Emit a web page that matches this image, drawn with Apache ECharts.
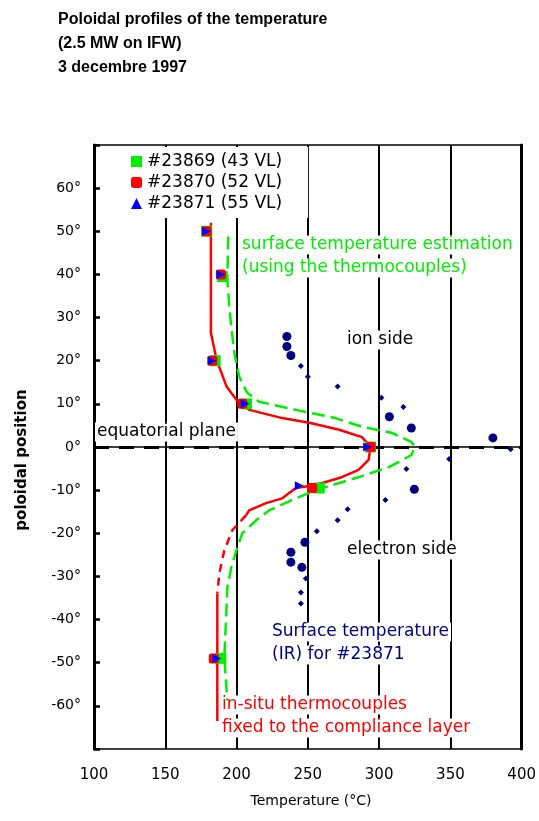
<!DOCTYPE html>
<html>
<head>
<meta charset="utf-8">
<script src="https://cdn.jsdelivr.net/npm/echarts@6/dist/echarts.min.js"></script>
<style>
  html, body { margin: 0; padding: 0; background: #fff; }
  #chart { width: 539px; height: 821px; }
</style>
</head>
<body>
<div id="chart"></div>
<script>
// thermocouple readings [temperature °C, poloidal position °]
const tc23869 = [[179, 50], [190, 39.5], [185, 20], [207, 10], [294, 0], [258, -9.5], [189, -49]];
const tc23870 = [[179, 50], [189, 40], [183, 20], [204, 10], [294, 0], [253, -9.5], [184, -49]];
const tc23871 = [[179, 50], [189, 40], [183, 20], [206, 10], [292, 0], [244, -9], [186, -49]];

// in-situ thermocouples profile (red)
const insituTop = [[182, 52], [182, 26.5], [186, 20.2], [193, 14], [200, 10.9], [209, 8.6], [232, 6.7],
  [251, 5.6], [272, 4], [288, 2.3], [294, 0], [292.6, -3], [285.6, -5.3], [273.7, -7], [255.6, -8.8],
  [241.6, -9.5], [232, -11.9], [220.7, -13], [208.8, -14.7], [206.7, -15.8]];
const insituMid = [[206.7, -15.8], [197, -19.3], [191.4, -24], [187.9, -29.3], [186.5, -34]];
const insituBottom = [[186.5, -34], [186.5, -63.5]];

// surface temperature estimation (green dashed)
const surfaceEstimate = [[194.2, 48.8], [193.5, 38.8], [194.9, 32.6], [196.3, 27.9], [198.4, 21.9],
  [201.9, 16.3], [207.4, 12.6], [215.8, 10.5], [241.6, 8.6], [269.5, 6.7], [287.7, 4.7], [308.6, 3.3],
  [322.6, 1.2], [325.3, 0], [322.6, -1.9], [306.5, -4.7], [283.5, -7.2], [255.6, -10], [238.8, -12.3],
  [222.8, -14.7], [213.7, -17], [204, -20], [199.8, -24], [196.3, -27.9], [193.5, -32.6], [192.8, -38.6],
  [191.4, -48.8], [193.5, -58.8]];

// IR surface temperature for #23871
const irBig = [[235.3, 25.6], [235.3, 23.3], [238.1, 21.2], [307.2, 7], [322.6, 4.4], [379.8, 2.1],
  [324.7, -9.8], [247.9, -22.1], [238.1, -24.4], [238.1, -26.7], [245.8, -27.9]];
const irSmall = [[245.1, 18.8], [250, 16.3], [270.9, 14], [301.6, 11.4], [317, 9.3], [392.3, -0.5],
  [349.1, -2.8], [319.1, -5.1], [304.4, -12.3], [277.9, -14.4], [270.9, -17], [256.3, -19.5],
  [248.6, -30.5], [245.1, -33.7], [245.1, -36.3]];

const legendNames = ['#23869 (43 VL)', '#23870 (52 VL)', '#23871 (55 VL)'];
const xTicks = [100, 400, 50];
const yTicks = [-70, 70, 10];

const titleFont = '"Liberation Sans", Arial, sans-serif';
const font = '"DejaVu Sans", sans-serif';

const chart = echarts.init(document.getElementById('chart'));

function note(text, x, y, color) {
  return {
    type: 'text',
    x: x,
    y: y,
    z: 1,
    style: {
      text: text,
      fill: color,
      font: '17px ' + font,
      verticalAlign: 'middle',
      backgroundColor: '#fff',
      padding: [1, 2]
    }
  };
}

const option = {
  animation: false,
  backgroundColor: '#fff',
  title: {
    text: 'Poloidal profiles of the temperature\n(2.5 MW on IFW)\n3 decembre 1997',
    left: 53,
    top: 3,
    textStyle: { fontFamily: titleFont, fontSize: 16, fontWeight: 'bold', color: '#000', lineHeight: 24 }
  },
  grid: {
    left: 94, right: 15, top: 145, bottom: 72,
    show: true, borderColor: '#000', borderWidth: 1.5
  },
  legend: {
    orient: 'vertical',
    left: 105,
    top: 147,
    padding: [6, 26, 6, 26],
    itemGap: 4,
    itemWidth: 11,
    itemHeight: 11,
    backgroundColor: '#fff',
    textStyle: { fontFamily: font, fontSize: 17, color: '#000' },
    data: [
      { name: legendNames[0], icon: 'rect' },
      { name: legendNames[1], icon: 'roundRect' },
      { name: legendNames[2], icon: 'triangle' }
    ]
  },
  xAxis: {
    type: 'value',
    min: xTicks[0], max: xTicks[1], interval: xTicks[2],
    axisLine: { lineStyle: { color: '#000', width: 1.5 } },
    axisTick: { inside: true, length: 5, lineStyle: { color: '#000', width: 1.5 } },
    axisLabel: { fontFamily: font, fontSize: 15, color: '#000', margin: 19 },
    splitLine: { show: true, lineStyle: { color: '#000', width: 2 } }
  },
  yAxis: [{
    type: 'value',
    min: yTicks[0], max: yTicks[1], interval: yTicks[2],
    axisLine: { lineStyle: { color: '#000', width: 3 } },
    axisTick: { inside: true, length: 6, lineStyle: { color: '#000', width: 2.5 } },
    axisLabel: {
      fontFamily: font, fontSize: 14, color: '#000', margin: 13,
      formatter: v => (v === yTicks[0] || v === yTicks[1]) ? '' : v + '°'
    },
    splitLine: { show: false }
  }, {
    type: 'value',
    position: 'right',
    min: yTicks[0], max: yTicks[1], interval: yTicks[2],
    axisLine: { show: true, lineStyle: { color: '#000', width: 3 } },
    axisTick: { show: false },
    axisLabel: { show: false },
    splitLine: { show: false }
  }],
  graphic: [
    {
      type: 'text', x: 22, y: 460, rotation: Math.PI / 2,
      style: { text: 'poloidal position', fill: '#000', font: 'bold 15px ' + font, align: 'center', verticalAlign: 'middle' }
    },
    {
      type: 'text', x: 311, y: 801,
      style: { text: 'Temperature (°C)', fill: '#000', font: '14px ' + font, align: 'center', verticalAlign: 'middle' }
    },
    note('surface temperature estimation', 240, 245, '#00ee00'),
    note('(using the thermocouples)', 240, 268, '#00ee00'),
    note('ion side', 345, 340, '#000'),
    note('equatorial plane', 95, 432, '#000'),
    note('electron side', 345, 550, '#000'),
    note('Surface temperature', 270, 632, '#000080'),
    note('(IR) for #23871', 270, 655, '#000080'),
    note('in-situ thermocouples', 220, 705, '#ff0000'),
    note('fixed to the compliance layer', 220, 728, '#ff0000')
  ],
  series: [
    {
      type: 'line', data: surfaceEstimate, showSymbol: false, symbol: 'none', z: 3,
      lineStyle: { color: '#00ee00', width: 2.5, type: [13, 6] },
      markLine: {
        silent: true, symbol: 'none', label: { show: false },
        lineStyle: { color: '#000', width: 3, type: [15, 10] },
        data: [{ yAxis: 0 }]
      }
    },
    { type: 'line', data: insituTop, symbol: 'none', z: 4, lineStyle: { color: '#ff0000', width: 2.5 } },
    { type: 'line', data: insituMid, symbol: 'none', z: 4, lineStyle: { color: '#ff0000', width: 2.5, type: [8, 6] } },
    { type: 'line', data: insituBottom, symbol: 'none', z: 4, lineStyle: { color: '#ff0000', width: 2.5 } },
    {
      type: 'scatter', data: irBig, symbol: 'circle', symbolSize: 9, z: 3,
      itemStyle: { color: '#000080', opacity: 1 }
    },
    {
      type: 'scatter', data: irSmall, symbol: 'diamond', symbolSize: 6, z: 3,
      itemStyle: { color: '#000080', opacity: 1 }
    },
    {
      name: legendNames[0], type: 'scatter', data: tc23869, symbol: 'rect', symbolSize: 11, z: 5,
      itemStyle: { color: '#00ee00', opacity: 1 }
    },
    {
      name: legendNames[1], type: 'scatter', data: tc23870, symbol: 'roundRect', symbolSize: 10, z: 6,
      itemStyle: { color: '#ff0000', opacity: 1 }
    },
    {
      name: legendNames[2], type: 'scatter', data: tc23871, symbol: 'triangle', symbolRotate: -90, symbolSize: 9, z: 7,
      itemStyle: { color: '#0000ff', opacity: 1 }
    }
  ]
};

chart.setOption(option);
</script>
</body>
</html>
